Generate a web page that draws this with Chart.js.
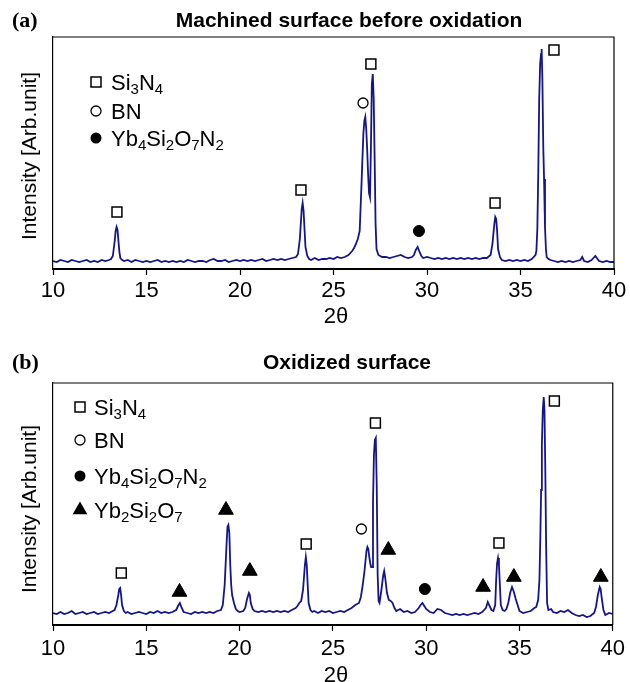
<!DOCTYPE html>
<html lang="en">
<head>
<meta charset="UTF-8">
<title>XRD patterns before and after oxidation</title>
<style>
  body { margin: 0; background: #fff; }
  canvas { position: absolute; left: 0; }
  #chartA { top: 0; }
  #chartB { top: 330px; }
</style>
</head>
<body>
<canvas id="chartA" width="630" height="330"></canvas>
<canvas id="chartB" width="630" height="352"></canvas>

<script src="https://cdn.jsdelivr.net/npm/chart.js"></script>
<script>
// ---- data (2θ in degrees, intensity in arbitrary units) ----
const xTicks = [10, 15, 20, 25, 30, 35, 40];

// (a) machined surface before oxidation
const anglesA = [
  10.0, 10.2, 10.4, 10.6, 10.8, 11.0, 11.2, 11.4, 11.6, 11.8,
  12.0, 12.2, 12.4, 12.6, 12.8, 13.0, 13.1, 13.2, 13.3, 13.35,
  13.4, 13.45, 13.5, 13.55, 13.6, 13.7, 13.8, 14.0, 14.2, 14.4,
  14.6, 14.8, 15.0, 15.2, 15.4, 15.6, 15.8, 16.0, 16.2, 16.4,
  16.6, 16.8, 17.0, 17.2, 17.4, 17.6, 17.8, 18.0, 18.2, 18.4,
  18.6, 18.8, 19.0, 19.2, 19.4, 19.6, 19.8, 20.0, 20.2, 20.4,
  20.6, 20.8, 21.0, 21.2, 21.4, 21.6, 21.8, 22.0, 22.2, 22.4,
  22.6, 22.8, 23.0, 23.1, 23.2, 23.25, 23.3, 23.35, 23.4, 23.45,
  23.5, 23.6, 23.7, 23.8, 24.0, 24.2, 24.4, 24.6, 24.8, 25.0,
  25.2, 25.4, 25.6, 25.8, 26.0, 26.1, 26.2, 26.3, 26.4, 26.5,
  26.55, 26.6, 26.65, 26.7, 26.75, 26.8, 26.85, 26.9, 26.95, 27.0,
  27.05, 27.1, 27.15, 27.2, 27.25, 27.3, 27.4, 27.5, 27.6, 27.8,
  28.0, 28.2, 28.4, 28.6, 28.8, 29.0, 29.2, 29.3, 29.4, 29.5,
  29.6, 29.7, 29.8, 30.0, 30.2, 30.4, 30.6, 30.8, 31.0, 31.2,
  31.4, 31.6, 31.8, 32.0, 32.2, 32.4, 32.6, 32.8, 33.0, 33.2,
  33.4, 33.5, 33.6, 33.65, 33.7, 33.75, 33.8, 33.9, 34.0, 34.2,
  34.4, 34.6, 34.8, 35.0, 35.2, 35.4, 35.6, 35.8, 35.85, 35.9,
  35.95, 36.0, 36.05, 36.1, 36.13, 36.17, 36.22, 36.26, 36.31, 36.36,
  36.4, 36.5, 36.6, 36.8, 37.0, 37.2, 37.4, 37.6, 37.8, 38.0,
  38.2, 38.3, 38.4, 38.6, 38.8, 38.9, 39.0, 39.2, 39.4, 39.6,
  39.8, 40.0
];
const intensityA = [
  8, 7, 9, 8, 7, 9, 8, 7, 8, 9,
  7, 8, 7, 9, 8, 9, 10, 13, 28, 38,
  42, 39, 28, 17, 11, 9, 8, 9, 7, 9,
  8, 7, 8, 7, 8, 9, 7, 8, 7, 8,
  7, 8, 7, 9, 8, 7, 8, 8, 7, 9,
  10, 8, 8, 9, 7, 8, 9, 8, 9, 8,
  9, 8, 9, 10, 8, 9, 10, 9, 10, 9,
  10, 11, 12, 15, 30, 45, 60, 66, 58, 40,
  22, 13, 10, 9, 11, 9, 10, 10, 11, 10,
  12, 11, 12, 14, 18, 21, 25, 30, 38, 86,
  112, 136, 148, 152, 140, 120, 95, 76, 72, 120,
  185, 195, 170, 110, 45, 20, 14, 13, 12, 12,
  11, 12, 13, 14, 12, 11, 12, 14, 19, 22,
  17, 13, 11, 12, 11, 10, 11, 10, 11, 10,
  11, 10, 11, 10, 11, 10, 11, 10, 11, 11,
  14, 25, 45, 52, 50, 38, 20, 12, 9, 8,
  9, 8, 9, 8, 9, 8, 10, 14, 18, 40,
  96, 170, 205, 215, 220, 190, 120, 90, 42, 20,
  12, 10, 9, 8, 7, 8, 7, 8, 7, 8,
  9, 12, 8, 7, 9, 11, 13, 8, 7, 8,
  7, 7
];

// (b) oxidized surface
const anglesB = [
  10.0, 10.2, 10.4, 10.6, 10.8, 11.0, 11.2, 11.4, 11.6, 11.8,
  12.0, 12.2, 12.4, 12.6, 12.8, 13.0, 13.2, 13.3, 13.4, 13.5,
  13.55, 13.6, 13.65, 13.7, 13.8, 13.9, 14.0, 14.2, 14.4, 14.6,
  14.8, 15.0, 15.2, 15.4, 15.6, 15.8, 16.0, 16.2, 16.4, 16.6,
  16.7, 16.8, 16.9, 17.0, 17.2, 17.4, 17.6, 17.8, 18.0, 18.2,
  18.4, 18.6, 18.8, 19.0, 19.1, 19.2, 19.3, 19.35, 19.4, 19.45,
  19.5, 19.55, 19.6, 19.7, 19.8, 19.9, 20.0, 20.2, 20.3, 20.4,
  20.5, 20.55, 20.6, 20.7, 20.8, 21.0, 21.2, 21.4, 21.6, 21.8,
  22.0, 22.2, 22.4, 22.6, 22.8, 23.0, 23.1, 23.2, 23.3, 23.4,
  23.5, 23.55, 23.6, 23.65, 23.7, 23.8, 23.9, 24.0, 24.2, 24.4,
  24.6, 24.8, 25.0, 25.2, 25.4, 25.6, 25.8, 26.0, 26.2, 26.4,
  26.5, 26.6, 26.7, 26.8, 26.85, 26.9, 26.95, 27.0, 27.05, 27.1,
  27.15, 27.2, 27.25, 27.3, 27.35, 27.4, 27.45, 27.5, 27.6, 27.7,
  27.75, 27.8, 27.9, 28.0, 28.1, 28.2, 28.3, 28.4, 28.6, 28.8,
  29.0, 29.2, 29.4, 29.6, 29.7, 29.8, 29.9, 30.0, 30.2, 30.4,
  30.6, 30.8, 31.0, 31.2, 31.4, 31.6, 31.8, 32.0, 32.2, 32.4,
  32.6, 32.8, 33.0, 33.2, 33.3, 33.4, 33.5, 33.6, 33.7, 33.75,
  33.8, 33.85, 33.9, 33.95, 34.0, 34.1, 34.2, 34.3, 34.4, 34.5,
  34.6, 34.7, 34.8, 34.9, 35.0, 35.2, 35.4, 35.6, 35.8, 35.9,
  36.0, 36.07, 36.12, 36.16, 36.2, 36.25, 36.3, 36.34, 36.38, 36.43,
  36.48, 36.55, 36.7, 36.8, 37.0, 37.2, 37.4, 37.6, 37.8, 38.0,
  38.2, 38.4, 38.6, 38.8, 39.0, 39.1, 39.2, 39.3, 39.35, 39.4,
  39.5, 39.6, 39.8, 40.0
];
const intensityB = [
  12, 11, 13, 11, 12, 14, 11, 12, 13, 11,
  12, 13, 11, 12, 13, 12, 14, 15, 20, 30,
  36, 37, 30, 20, 14, 12, 13, 11, 12, 13,
  12, 11, 13, 12, 14, 12, 13, 12, 13, 15,
  19, 22, 17, 13, 12, 11, 13, 12, 13, 12,
  13, 12, 14, 15, 20, 40, 80, 98, 100, 92,
  60, 40, 30, 22, 16, 14, 13, 14, 17, 26,
  32, 30, 22, 16, 14, 13, 14, 13, 14, 13,
  14, 13, 14, 13, 15, 17, 19, 22, 24, 35,
  60, 68, 60, 40, 22, 15, 13, 14, 12, 14,
  13, 14, 12, 13, 14, 13, 15, 17, 20, 22,
  28, 40, 55, 74, 78, 76, 68, 62, 58, 58,
  122, 170, 185, 187, 140, 50, 24, 22, 35, 50,
  54, 48, 32, 25, 24, 22, 17, 14, 16, 13,
  14, 12, 13, 17, 20, 22, 19, 16, 13, 12,
  16, 15, 12, 11, 10, 11, 10, 11, 10, 11,
  12, 11, 13, 17, 23, 19, 15, 14, 20, 45,
  62, 67, 60, 40, 20, 15, 14, 16, 22, 32,
  38, 33, 26, 20, 14, 12, 13, 14, 17, 18,
  25, 45, 90, 135, 180, 215, 228, 215, 162, 78,
  22, 15, 16, 13, 12, 14, 13, 15, 12, 10,
  9, 10, 8, 9, 12, 18, 30, 38, 36, 28,
  15, 10, 12, 11
];

// phase markers placed above the peaks
const si3n4AngleA = [13.42, 23.26, 27.0, 33.64, 36.79];
const si3n4LevelA = [57, 79, 205, 66, 219];
const bnAngleA = [26.58];
const bnLevelA = [166];
const ybNAngleA = [29.57];
const ybNLevelA = [38];

const si3n4AngleB = [13.66, 23.57, 27.28, 33.9, 36.87];
const si3n4LevelB = [52, 81, 202, 82, 224];
const bnAngleB = [26.53];
const bnLevelB = [96];
const ybNAngleB = [29.93];
const ybNLevelB = [36];
const ybOAngleB = [16.78, 19.27, 20.55, 27.97, 33.05, 34.7, 39.36];
const ybOLevelB = [33, 115, 54, 75, 38, 48, 48];

const legendA = ['Si3N4', 'BN', 'Yb4Si2O7N2'];
const legendB = ['Si3N4', 'BN', 'Yb4Si2O7N2', 'Yb2Si2O7'];

const SANS = '"Liberation Sans", Arial, sans-serif';
const LINE_COLOR = '#14148c';

// marker looks, shared by plot points and legend
const markStyles = {
  square:   { pointStyle: 'rect', pointRadius: 7, backgroundColor: '#fff', borderColor: '#000', borderWidth: 1.5 },
  circle:   { pointStyle: 'circle', pointRadius: 5, backgroundColor: '#fff', borderColor: '#000', borderWidth: 1.3 },
  disc:     { pointStyle: 'circle', pointRadius: 5.5, backgroundColor: '#000', borderColor: '#000', borderWidth: 1 },
  triangle: { pointStyle: 'triangle', pointRadius: 8.5, backgroundColor: '#000', borderColor: '#000', borderWidth: 1 }
};

function toPoints(xs, ys) {
  return xs.map((x, i) => ({ x: x, y: ys[i] }));
}

function markerSet(xs, ys, style) {
  return Object.assign({ data: toPoints(xs, ys), showLine: false, order: 1 }, markStyles[style]);
}

function drawMark(ctx, style, x, y) {
  ctx.save();
  ctx.strokeStyle = '#000';
  ctx.beginPath();
  if (style === 'square') {
    ctx.fillStyle = '#fff'; ctx.lineWidth = 1.5;
    ctx.rect(x - 5, y - 5, 10, 10);
    ctx.fill(); ctx.stroke();
  } else if (style === 'circle') {
    ctx.fillStyle = '#fff'; ctx.lineWidth = 1.3;
    ctx.arc(x, y, 5, 0, Math.PI * 2);
    ctx.fill(); ctx.stroke();
  } else if (style === 'disc') {
    ctx.fillStyle = '#000';
    ctx.arc(x, y, 5.5, 0, Math.PI * 2);
    ctx.fill();
  } else {
    ctx.fillStyle = '#000';
    const r = 8.5;
    ctx.moveTo(x, y - r);
    ctx.lineTo(x + r * 0.866, y + r * 0.5);
    ctx.lineTo(x - r * 0.866, y + r * 0.5);
    ctx.closePath();
    ctx.fill();
  }
  ctx.restore();
}

// chemical formula: every digit is set as a subscript
function drawFormula(ctx, text, x, y) {
  let cx = x;
  for (const ch of text) {
    const sub = ch >= '0' && ch <= '9';
    ctx.font = sub ? '15px ' + SANS : '22px ' + SANS;
    ctx.fillText(ch, cx, sub ? y + 4 : y);
    cx += ctx.measureText(ch).width;
  }
}

function decorFor(cfg) {
  return {
    id: 'decor',
    afterDraw(chart) {
      const ctx = chart.ctx, a = chart.chartArea;
      ctx.save();
      // top and right edges of the frame
      ctx.strokeStyle = '#000';
      ctx.lineWidth = 1.2;
      ctx.beginPath();
      ctx.moveTo(a.left, a.top);
      ctx.lineTo(a.right, a.top);
      ctx.lineTo(a.right, a.bottom);
      ctx.stroke();

      ctx.fillStyle = '#000';
      ctx.textBaseline = 'middle';
      ctx.textAlign = 'left';
      ctx.font = 'bold 22px "Liberation Serif", "Times New Roman", serif';
      ctx.fillText(cfg.panel, 12, cfg.titleY);

      ctx.textAlign = 'center';
      ctx.font = 'bold 21px ' + SANS;
      ctx.fillText(cfg.title, cfg.titleX, cfg.titleY);

      ctx.font = '22px ' + SANS;
      ctx.fillText('2θ', 336, cfg.xTitleY);

      ctx.save();
      ctx.translate(30, cfg.yTitleY);
      ctx.rotate(-Math.PI / 2);
      ctx.font = '21px ' + SANS;
      ctx.fillText('Intensity [Arb.unit]', 0, 0);
      ctx.restore();

      // legend
      ctx.textAlign = 'left';
      ctx.textBaseline = 'alphabetic';
      cfg.legend.forEach((label, i) => {
        const y = cfg.legendY[i];
        drawMark(ctx, cfg.legendMarks[i], cfg.legendX, y);
        drawFormula(ctx, label, cfg.legendTextX, y + 8);
      });
      ctx.restore();
    }
  };
}

function buildChart(id, cfg) {
  const W = 630, H = cfg.height;
  return new Chart(document.getElementById(id), {
    type: 'scatter',
    data: {
      datasets: [
        {
          data: toPoints(cfg.angles, cfg.intensity),
          showLine: true,
          borderColor: LINE_COLOR,
          borderWidth: 1.8,
          pointRadius: 0,
          order: 2
        }
      ].concat(cfg.markers)
    },
    options: {
      responsive: false,
      animation: false,
      events: [],
      layout: { padding: { top: cfg.area.top, right: W - cfg.area.right, left: 0, bottom: 0 } },
      scales: {
        x: {
          type: 'linear',
          min: 10,
          max: 40,
          afterBuildTicks: s => { s.ticks = xTicks.map(v => ({ value: v })); },
          ticks: { color: '#000', font: { size: 22, family: SANS }, padding: cfg.tickPad, maxRotation: 0 },
          grid: { drawOnChartArea: false, tickLength: 6, tickColor: '#000', tickWidth: 1.2 },
          border: { color: '#000', width: 2 },
          afterFit: s => { s.height = H - cfg.area.bottom; }
        },
        y: {
          min: 0,
          max: cfg.area.bottom - cfg.area.top,
          ticks: { display: false },
          grid: { display: false },
          border: { display: true, color: '#000', width: 1.2 },
          afterFit: s => { s.width = cfg.area.left; }
        }
      },
      plugins: { legend: { display: false }, tooltip: { enabled: false } }
    },
    plugins: [decorFor(cfg)]
  });
}

buildChart('chartA', {
  height: 330,
  area: { left: 53, right: 614, top: 37, bottom: 269 },
  tickPad: 3,
  angles: anglesA,
  intensity: intensityA,
  markers: [
    markerSet(si3n4AngleA, si3n4LevelA, 'square'),
    markerSet(bnAngleA, bnLevelA, 'circle'),
    markerSet(ybNAngleA, ybNLevelA, 'disc')
  ],
  panel: '(a)',
  title: 'Machined surface before oxidation',
  titleX: 349,
  titleY: 21,
  xTitleY: 317,
  yTitleY: 156,
  legend: legendA,
  legendMarks: ['square', 'circle', 'disc'],
  legendX: 96,
  legendTextX: 111,
  legendY: [82, 111, 138]
});

buildChart('chartB', {
  height: 352,
  area: { left: 53, right: 619, top: 53, bottom: 295 },
  tickPad: 5,
  angles: anglesB,
  intensity: intensityB,
  markers: [
    markerSet(si3n4AngleB, si3n4LevelB, 'square'),
    markerSet(bnAngleB, bnLevelB, 'circle'),
    markerSet(ybNAngleB, ybNLevelB, 'disc'),
    markerSet(ybOAngleB, ybOLevelB, 'triangle')
  ],
  panel: '(b)',
  title: 'Oxidized surface',
  titleX: 347,
  titleY: 33,
  xTitleY: 346,
  yTitleY: 179,
  legend: legendB,
  legendMarks: ['square', 'circle', 'disc', 'triangle'],
  legendX: 80,
  legendTextX: 94,
  legendY: [77, 110, 146, 180]
});
</script>
</body>
</html>
